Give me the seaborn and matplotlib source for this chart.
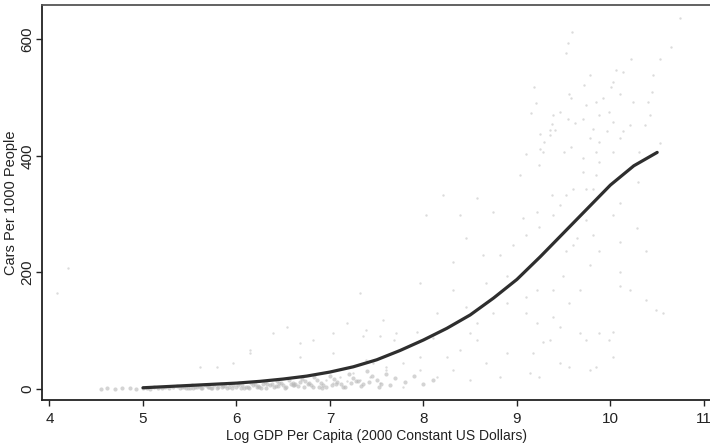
import matplotlib
matplotlib.use("Agg")
import matplotlib.pyplot as plt
import seaborn as sns
import pandas as pd

# Fitted relationship: car ownership vs. log GDP per capita
fit_x = [5.0, 5.25, 5.5, 5.75, 6.0, 6.25, 6.5, 6.75, 7.0, 7.25, 7.5, 7.75,
         8.0, 8.25, 8.5, 8.75, 9.0, 9.25, 9.5, 9.75, 10.0, 10.25, 10.5]
fit_y = [2, 4, 6, 8, 10, 13, 17, 22, 29, 38, 50, 66,
         84, 104, 127, 156, 188, 227, 268, 309, 350, 383, 406]

# Country-year observations (upper cloud)
obs_x = [9.59, 9.55, 9.52, 9.18, 9.56, 9.58, 9.20, 9.15, 9.46, 9.39, 9.55, 9.37,
         9.62, 9.35, 9.41, 9.25, 9.35, 9.29, 9.25, 9.50, 9.28, 9.10, 9.58,
         10.74, 10.65, 10.22, 10.53, 10.45, 10.13, 9.78, 9.72, 10.03, 10.01, 10.06,
         9.85, 9.92, 10.24, 10.40, 10.44, 10.10, 9.74, 9.71, 9.88, 9.99, 10.03,
         10.21, 10.37, 10.42, 9.81, 9.96, 10.13, 9.78, 9.88, 10.10, 10.53, 9.85,
         10.03, 10.31,
         9.37, 9.21, 9.06, 9.24, 9.46, 9.53, 9.60, 9.10, 8.96, 8.82, 8.64, 8.46,
         8.39, 8.21, 8.03, 8.32, 9.53, 9.60, 9.64, 9.39, 9.03, 9.24, 8.57, 8.74,
         9.74, 9.85, 9.71, 9.81, 10.10, 10.29, 10.03, 9.74, 9.81, 9.88, 10.10,
         10.28, 9.78, 10.10, 10.38, 9.71, 9.88,
         7.96, 7.32, 8.14, 8.46, 8.57, 8.74, 8.89, 7.93, 8.10, 8.50, 8.57, 8.39,
         8.25, 7.96, 7.78, 7.60, 7.43, 7.32, 7.18, 7.03, 6.96, 7.53, 7.96, 8.14,
         8.32, 8.67, 8.89, 8.82, 8.50, 7.78, 7.25, 7.11, 7.35, 7.53, 7.71, 8.32,
         8.67, 8.89,
         9.10, 9.21, 9.39, 9.49, 9.67, 9.56, 9.39, 9.21, 9.10, 9.46, 9.67, 9.88,
         10.03, 9.99, 9.74, 9.35, 9.28, 9.17, 9.46, 9.78, 9.85, 10.03, 10.49,
         10.56, 10.10, 10.21, 10.38, 9.24, 9.56, 9.14,
         6.39, 6.54, 6.68, 6.82, 7.03, 7.18, 7.39, 7.57, 7.68, 6.14, 5.96, 5.79,
         5.61, 6.68, 7.03, 7.39, 7.46, 7.60, 4.20, 4.08, 6.14]
obs_y = [613, 593, 576, 519, 506, 499, 490, 473, 475, 470, 463, 454,
         456, 444, 444, 438, 436, 423, 412, 407, 407, 403, 416,
         636, 587, 566, 566, 539, 544, 539, 522, 527, 519, 547,
         493, 499, 493, 493, 510, 507, 487, 464, 470, 476, 459,
         453, 453, 470, 447, 442, 442, 430, 424, 430, 422, 407,
         407, 407,
         333, 304, 293, 278, 316, 333, 344, 264, 247, 230, 230, 259,
         299, 333, 299, 218, 236, 247, 259, 299, 367, 384, 327, 304,
         344, 367, 373, 344, 319, 356, 299, 290, 264, 236, 253,
         276, 213, 201, 236, 396, 390,
         181, 164, 130, 141, 113, 130, 147, 98, 87, 96, 84, 67,
         55, 55, 44, 33, 21, 15, 13, 10, 15, 10, 33, 21,
         33, 44, 61, 21, 15, 4, 27, 21, 90, 90, 96, 170,
         181, 193,
         158, 170, 170, 193, 170, 147, 124, 113, 130, 107, 96, 96,
         98, 84, 84, 84, 81, 61, 44, 33, 38, 55, 136,
         130, 176, 170, 153, 21, 38, 27,
         96, 107, 78, 84, 96, 113, 101, 118, 84, 61, 44, 38,
         38, 55, 61, 50, 44, 38, 207, 165, 67]

# Country-year observations (dense low-income band)
band_x = [4.55, 4.62, 4.70, 4.78, 4.86, 4.93, 5.00, 5.04, 5.08, 5.12, 5.16, 5.20,
          5.24, 5.28, 5.32, 5.36, 5.40, 5.44, 5.48, 5.52, 5.56, 5.60, 5.63, 5.66,
          5.70, 5.73, 5.76, 5.80, 5.83, 5.86, 5.90, 5.93, 5.96, 6.00, 6.03, 6.06,
          6.10, 6.13, 6.16, 6.20, 6.23, 6.26, 6.30, 6.33, 6.36, 6.40, 6.43, 6.46,
          6.50, 6.53, 6.56, 6.60, 6.63, 6.66, 6.70, 6.73, 6.76, 6.80, 6.83, 6.86,
          6.90, 6.93, 6.96, 7.00, 7.04, 7.08, 7.12, 7.16, 7.20, 7.25, 7.30, 7.35,
          7.40, 7.45, 7.50, 7.55, 7.60, 7.70, 7.80, 7.90, 8.00, 8.10,
          5.42, 5.58, 5.68, 5.88, 6.02, 6.18, 6.28, 6.38, 6.48, 6.58, 6.68, 6.78,
          5.50, 5.74, 5.92, 6.08, 6.24, 6.44, 6.62, 6.88, 7.06, 7.28,
          5.46, 5.54, 5.62, 5.71, 5.79, 5.85, 5.95, 6.05, 6.12, 6.22, 6.32, 6.42,
          6.52, 6.61, 6.72, 6.82, 6.92, 7.02, 7.14, 7.22, 7.33, 7.42, 7.52, 7.64]
band_y = [0, 1, 0, 1, 1, 0, 1, 2, 0, 3, 1, 2,
          4, 1, 3, 5, 2, 4, 1, 6, 3, 5, 2, 7,
          4, 1, 6, 3, 8, 5, 2, 9, 6, 3, 10, 7,
          4, 1, 11, 8, 5, 2, 12, 9, 6, 3, 13, 10,
          7, 4, 15, 11, 8, 5, 17, 13, 9, 6, 20, 15,
          11, 7, 3, 22, 17, 12, 8, 4, 26, 19, 13, 8,
          30, 22, 15, 9, 25, 18, 12, 22, 8, 15,
          3, 4, 6, 5, 7, 6, 9, 8, 10, 9, 12, 11,
          1, 2, 3, 2, 4, 5, 6, 4, 9, 14,
          1, 2, 1, 3, 2, 4, 1, 2, 4, 3, 2, 5,
          2, 6, 3, 4, 2, 6, 3, 10, 5, 12, 4, 7]

cloud_df = pd.DataFrame({"gdp": obs_x, "cars": obs_y})
band_df = pd.DataFrame({"gdp": band_x, "cars": band_y})
fit_df = pd.DataFrame({"gdp": fit_x, "cars": fit_y})

sns.set_style("white")
plt.rcParams["font.family"] = ["Liberation Sans", "DejaVu Sans"]

fig = plt.figure(figsize=(7.1, 4.48), dpi=100)
ax = fig.add_axes([42 / 710, 48 / 448, 668 / 710, 395 / 448])

sns.scatterplot(data=cloud_df, x="gdp", y="cars", ax=ax, s=3, color="#9a9a9a",
                alpha=0.35, linewidth=0, legend=False)
sns.scatterplot(data=band_df, x="gdp", y="cars", ax=ax, s=9, color="#b8b8b8",
                alpha=0.6, linewidth=0, legend=False)
sns.lineplot(data=fit_df, x="gdp", y="cars", ax=ax, color="#2e2e2e", linewidth=2.3,
             legend=False)

ax.set_xlim(3.92, 11.065)
ax.set_ylim(-19, 659)
ax.set_xticks([4, 5, 6, 7, 8, 9, 10, 11])
ax.set_yticks([0, 200, 400, 600])

for side in ("left", "bottom", "top"):
    ax.spines[side].set_visible(True)
    ax.spines[side].set_linewidth(1.3)
ax.spines["left"].set_color("#222222")
ax.spines["bottom"].set_color("#222222")
ax.spines["top"].set_color("#555555")
ax.spines["right"].set_visible(False)

ax.tick_params(axis="both", which="major", direction="out", length=4.5, width=1.0,
               color="#222222", labelsize=11, labelcolor="#222222")
ax.tick_params(axis="x", pad=4, bottom=True)
ax.tick_params(axis="y", pad=0.8, left=True)
for lab in ax.get_yticklabels():
    lab.set_rotation(90)
    lab.set_va("center")

ax.set_xlabel("Log GDP Per Capita (2000 Constant US Dollars)", fontsize=10,
              color="#222222")
ax.set_ylabel("Cars Per 1000 People", fontsize=10.5, color="#222222")
ax.xaxis.set_label_coords(0.5, -0.074)
ax.yaxis.set_label_coords(-0.036, 0.5)

fig.savefig("out.png", dpi=100)
